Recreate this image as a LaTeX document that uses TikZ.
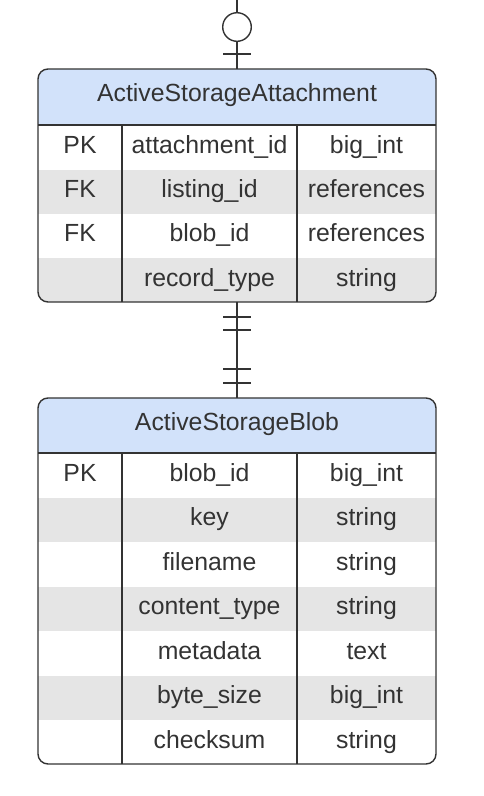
\documentclass[tikz,border=0pt]{standalone}
\usepackage{fontspec}
\setmainfont{Liberation Sans}
\usetikzlibrary{positioning}

\definecolor{hdrblue}{RGB}{210,226,250}
\definecolor{rowgray}{RGB}{229,229,229}
\definecolor{ink}{RGB}{51,51,51}

\tikzset{
  erline/.style={draw=ink, line width=1.4pt},
  cell/.style={text=ink, font=\fontsize{24.8}{29}\selectfont, inner sep=0pt, anchor=center},
  crowbar/.style={draw=ink, line width=1.4pt}
}

\begin{document}
\begin{tikzpicture}[x=1pt,y=-1pt]
\useasboundingbox (0,0) rectangle (484,796);

%% Connector above the attachment table
\coordinate (src) at (237,0);
\coordinate (att-top) at (237,69);
\draw [erline] (src) -- (att-top);
\draw [erline, fill=white] (237,27) circle (14.3);
\draw [crowbar] (223,54) -- ++(28,0);

%% ActiveStorageAttachment
\begin{scope}
  \clip [rounded corners=10] (38,69) rectangle (436,302);
  \fill [hdrblue] (38,69) rectangle (436,125);
  \fill [rowgray] (38,170) rectangle (436,214);
  \fill [rowgray] (38,258) rectangle (436,302);
\end{scope}
\draw [erline, rounded corners=10] (38,69) rectangle (436,302);
\draw [erline] (38,125) -- (436,125);
\draw [erline] (122,125) -- (122,302);
\draw [erline] (297,125) -- (297,302);
\coordinate (att-bot) at (237,302);

\node [cell] (att) at (237,95) {ActiveStorageAttachment};
\foreach \k/\n/\t [count=\i] in {PK/attachment\_id/big\_int, FK/listing\_id/references, FK/blob\_id/references, /record\_type/string} {
  \node [cell] (att-k\i) at (80,{103+44.3*\i}) {\strut\k};
  \node [cell] (att-n\i) at (209.5,{103+44.3*\i}) {\strut\n};
  \node [cell] (att-t\i) at (366.5,{103+44.3*\i}) {\strut\t};
}

%% Connector between the tables
\coordinate (blob-top) at (237,398);
\draw [erline] (att-bot) -- (blob-top);
\draw [crowbar] (223,317) -- ++(28,0);
\draw [crowbar] (223,330) -- ++(28,0);
\draw [crowbar] (223,369) -- ++(28,0);
\draw [crowbar] (223,383) -- ++(28,0);

%% ActiveStorageBlob
\begin{scope}
  \clip [rounded corners=10] (38,398) rectangle (436,764);
  \fill [hdrblue] (38,398) rectangle (436,453);
  \fill [rowgray] (38,497.5) rectangle (436,542);
  \fill [rowgray] (38,586.5) rectangle (436,631);
  \fill [rowgray] (38,675.5) rectangle (436,720);
\end{scope}
\draw [erline, rounded corners=10] (38,398) rectangle (436,764);
\draw [erline] (38,453) -- (436,453);
\draw [erline] (122,453) -- (122,764);
\draw [erline] (297,453) -- (297,764);

\node [cell] (blob) at (237,424.5) {ActiveStorageBlob};
\foreach \k/\n/\t [count=\i] in {PK/blob\_id/big\_int, /key/string, /filename/string, /content\_type/string, /metadata/text, /byte\_size/big\_int, /checksum/string} {
  \node [cell] (blob-k\i) at (80,{431+44.5*\i}) {\strut\k};
  \node [cell] (blob-n\i) at (209.5,{431+44.5*\i}) {\strut\n};
  \node [cell] (blob-t\i) at (366.5,{431+44.5*\i}) {\strut\t};
}

\end{tikzpicture}
\end{document}
